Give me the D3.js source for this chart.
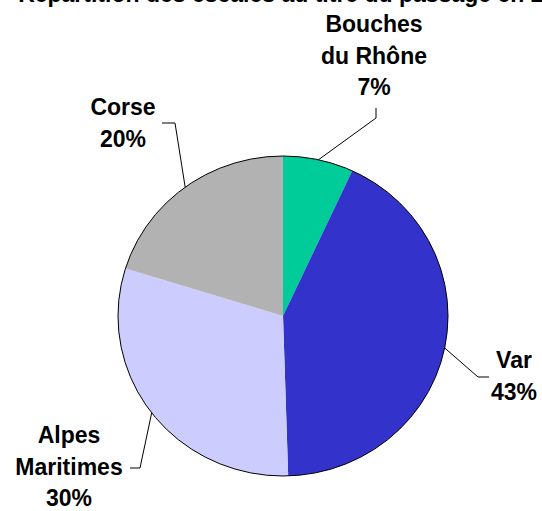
<!DOCTYPE html>
<html><head><meta charset="utf-8">
<script src="https://cdn.jsdelivr.net/npm/d3@7"></script>
<style>html,body{margin:0;padding:0;background:#fff;}svg{display:block;}</style>
</head><body>
<script>
const categories = ["Bouches du Rhône", "Var", "Alpes Maritimes", "Corse"];
const values = [6.9, 42.6, 30.3, 20.2];
const labelLines = [["Bouches", "du Rhône", "7%"], ["Var", "43%"], ["Alpes", "Maritimes", "30%"], ["Corse", "20%"]];
const colors = ["#00CC99", "#3333CC", "#CCCCFF", "#B2B2B2"];
const title = "Répartition des escales au titre du passage en 2004";

const W = 542, H = 511;
const cx = 283, cy = 316, rx = 165, ry = 160;
const svg = d3.select("body").append("svg").attr("width", W).attr("height", H);
const font = "'Liberation Sans', Arial, sans-serif";

svg.append("text").attr("x", 300).attr("y", 2).attr("text-anchor", "middle")
  .attr("font-family", font).attr("font-weight", "bold").attr("font-size", 23)
  .text(title);

const data = categories.map((c, i) => ({c, v: values[i], i}));
const pie = d3.pie().value(d => d.v).sort(null);
const arcs = pie(data);
const R = 100;
const arc = d3.arc().innerRadius(0).outerRadius(R);
const g = svg.append("g").attr("transform", `translate(${cx},${cy}) scale(${rx / R},${ry / R})`);
g.selectAll("path.slice").data(arcs).join("path").attr("class", "slice")
  .attr("d", arc).attr("fill", d => colors[d.data.i]);
g.append("ellipse").attr("rx", R).attr("ry", R).attr("fill", "none")
  .attr("stroke", "#000").attr("stroke-width", 1).attr("vector-effect", "non-scaling-stroke");

// label layout (positions of label blocks and leader elbows)
const labelPos = [
  {x: 374, y: 32, elbow: [[376, 108], [376, 118]]},
  {x: 514, y: 368, elbow: [[489, 377], [478, 377]]},
  {x: 69, y: 443, elbow: [[130, 468], [140, 468]]},
  {x: 123, y: 115, elbow: [[162, 123], [175, 123]]}
];
const lh = 31.5;
arcs.forEach((a, k) => {
  const lp = labelPos[k];
  const mid = (a.startAngle + a.endAngle) / 2;
  const px = cx + rx * Math.sin(mid), py = cy - ry * Math.cos(mid);
  const pts = lp.elbow.concat([[px, py]]);
  svg.append("path").attr("d", d3.line()(pts)).attr("fill", "none")
    .attr("stroke", "#000").attr("stroke-width", 1);
  const t = svg.append("text").attr("text-anchor", "middle")
    .attr("font-family", font).attr("font-weight", "bold").attr("font-size", 23).attr("fill", "#000");
  labelLines[k].forEach((s, j) => {
    t.append("tspan").attr("x", lp.x).attr("y", lp.y + j * lh).text(s);
  });
});
</script>
</body></html>
